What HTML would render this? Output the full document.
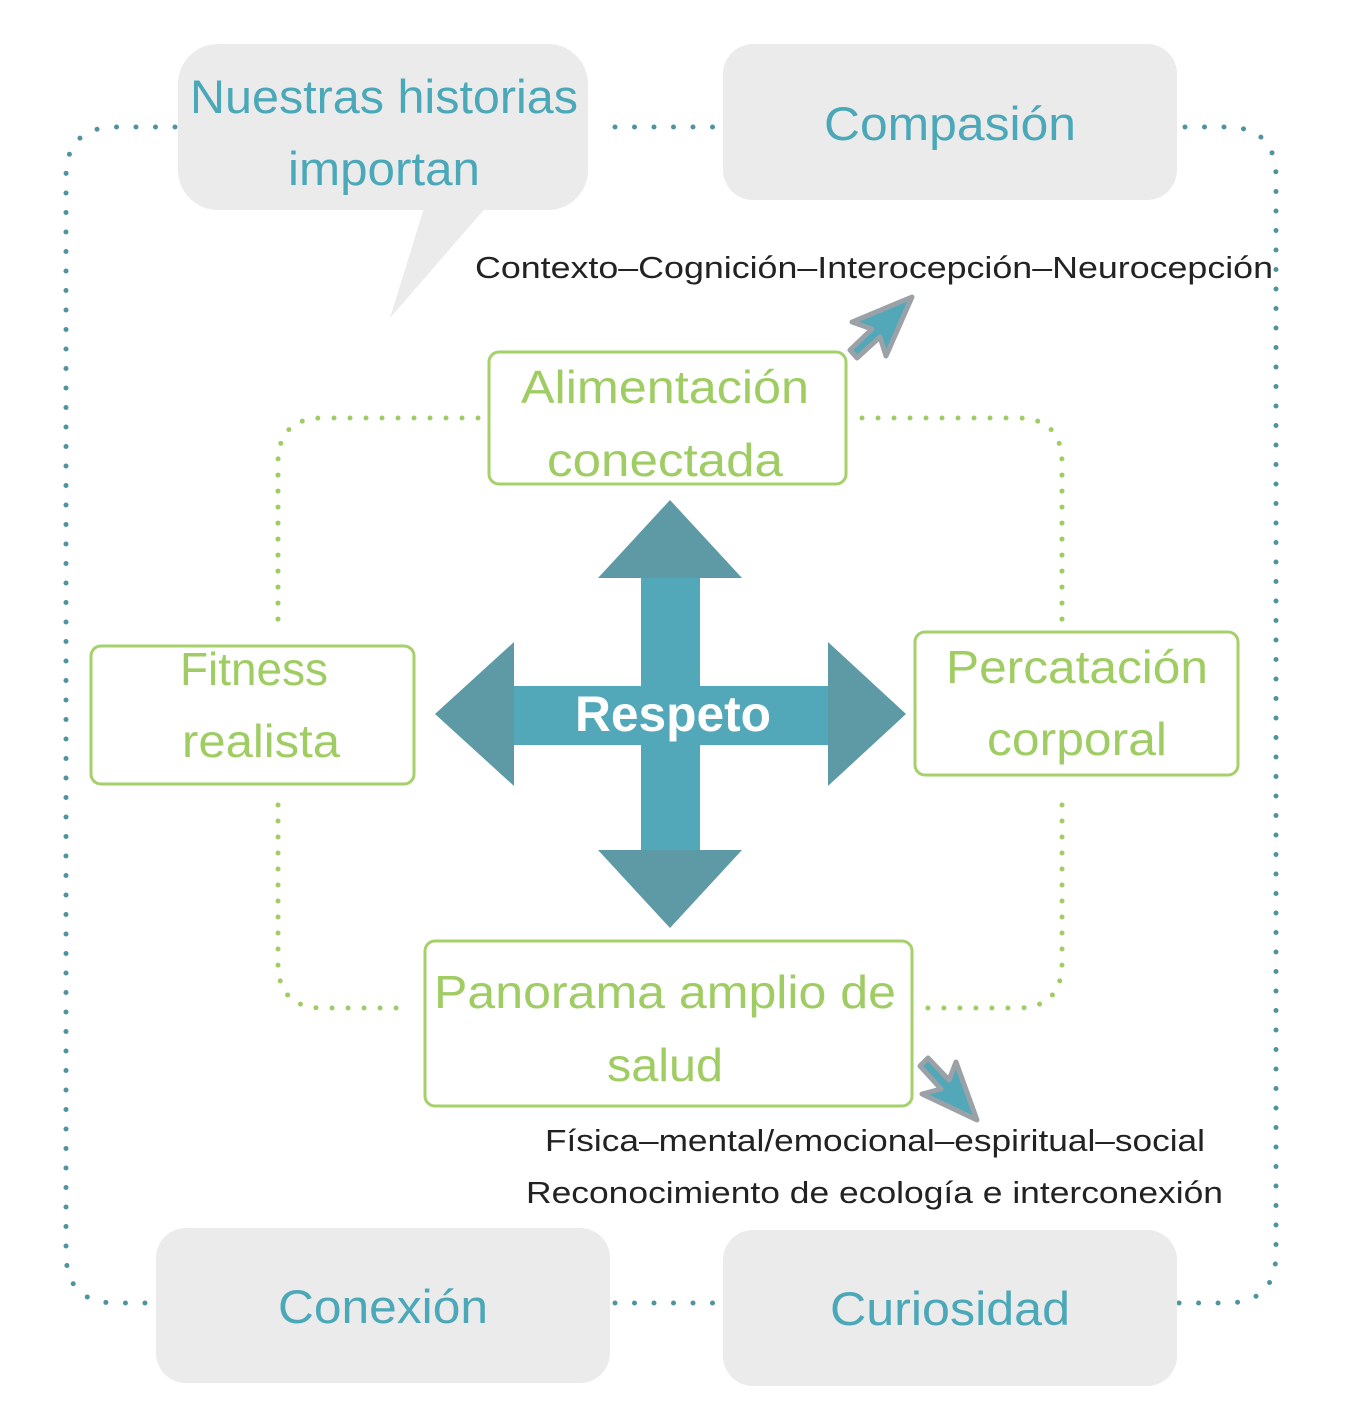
<!DOCTYPE html>
<html><head><meta charset="utf-8"><style>html,body{margin:0;padding:0;background:#fff}svg{display:block}</style></head>
<body>
<svg width="1352" height="1426" viewBox="0 0 1352 1426" xmlns="http://www.w3.org/2000/svg" font-family="Liberation Sans, DejaVu Sans, sans-serif">
<!-- outer teal dotted loop -->
<g fill="none" stroke="#4f93a0" stroke-width="5" stroke-linecap="round" stroke-dasharray="0 19.5">
<path d="M175 127 H116 Q66 127 66 177 V1253 Q66 1303 116 1303 H175"/>
<path d="M615 127 H725"/>
<path d="M615 1303 H725"/>
<path d="M1185 127 H1226 Q1276 127 1276 177 V1253 Q1276 1303 1226 1303 H1168"/>
</g>
<!-- green dotted loop -->
<g fill="none" stroke="#9fcd63" stroke-width="5" stroke-linecap="round" stroke-dasharray="0 16">
<path d="M478 418 H323 Q278 418 278 463 V625"/>
<path d="M862 418 H1017 Q1062 418 1062 463 V625"/>
<path d="M278 805 V963 Q278 1008 323 1008 H410"/>
<path d="M1062 805 V963 Q1062 1008 1017 1008 H918"/>
</g>
<!-- gray boxes -->
<g fill="#ebebeb">
<rect x="178" y="44" width="410" height="166" rx="40"/>
<polygon points="425,205 390,318 488,205"/>
<rect x="723" y="44" width="454" height="156" rx="30"/>
<rect x="156" y="1228" width="454" height="155" rx="30"/>
<rect x="723" y="1230" width="454" height="156" rx="30"/>
</g>
<g fill="#4aa8b8" text-anchor="middle" font-size="47">
<text x="384" y="113" textLength="388" lengthAdjust="spacingAndGlyphs">Nuestras historias</text>
<text x="384" y="185" textLength="192" lengthAdjust="spacingAndGlyphs">importan</text>
<text x="950" y="140" textLength="252" lengthAdjust="spacingAndGlyphs">Compasión</text>
<text x="383" y="1323" textLength="210" lengthAdjust="spacingAndGlyphs">Conexión</text>
<text x="950" y="1325" textLength="240" lengthAdjust="spacingAndGlyphs">Curiosidad</text>
</g>
<!-- green boxes -->
<g fill="#fff" stroke="#a5d06a" stroke-width="3">
<rect x="489" y="352" width="357" height="132" rx="10"/>
<rect x="91" y="646" width="323" height="138" rx="10"/>
<rect x="915" y="632" width="323" height="143" rx="10"/>
<rect x="425" y="941" width="487" height="165" rx="10"/>
</g>
<g fill="#9fcd63" text-anchor="middle" font-size="46">
<text x="665" y="403" textLength="288" lengthAdjust="spacingAndGlyphs">Alimentación</text>
<text x="665" y="476" textLength="236" lengthAdjust="spacingAndGlyphs">conectada</text>
<text x="254" y="685" textLength="148" lengthAdjust="spacingAndGlyphs">Fitness</text>
<text x="261" y="757" textLength="158" lengthAdjust="spacingAndGlyphs">realista</text>
<text x="1077" y="683" textLength="262" lengthAdjust="spacingAndGlyphs">Percatación</text>
<text x="1077" y="755" textLength="180" lengthAdjust="spacingAndGlyphs">corporal</text>
<text x="665" y="1008" textLength="462" lengthAdjust="spacingAndGlyphs">Panorama amplio de</text>
<text x="665" y="1081" textLength="116" lengthAdjust="spacingAndGlyphs">salud</text>
</g>
<!-- cross -->
<rect x="641" y="575" width="59" height="280" fill="#52a8b9"/>
<rect x="510" y="686" width="322" height="59" fill="#52a8b9"/>
<g fill="#5e99a6">
<polygon points="670,500 742,578 598,578"/>
<polygon points="670,928 742,850 598,850"/>
<polygon points="435,714 514,642 514,786"/>
<polygon points="906,714 828,642 828,786"/>
</g>
<text x="673" y="731" text-anchor="middle" font-size="50" font-weight="bold" fill="#fff" textLength="196" lengthAdjust="spacingAndGlyphs">Respeto</text>
<!-- small arrows -->
<polygon points="912,297 886,356 880,337 857,358 850,350 872,329 852,322" fill="#52a8b9" stroke="#9aa2a8" stroke-width="5" stroke-linejoin="round"/>
<polygon points="977,1120 922,1094 941,1089 920,1066 928,1058 949,1080 956,1062" fill="#52a8b9" stroke="#9aa2a8" stroke-width="5" stroke-linejoin="round"/>
<!-- black labels -->
<g fill="#222" font-size="31">
<text x="475" y="278" textLength="798" lengthAdjust="spacingAndGlyphs">Contexto–Cognición–Interocepción–Neurocepción</text>
<text x="545" y="1151" textLength="660" lengthAdjust="spacingAndGlyphs">Física–mental/emocional–espiritual–social</text>
<text x="526" y="1203" textLength="697" lengthAdjust="spacingAndGlyphs">Reconocimiento de ecología e interconexión</text>
</g>
</svg>
</body></html>
